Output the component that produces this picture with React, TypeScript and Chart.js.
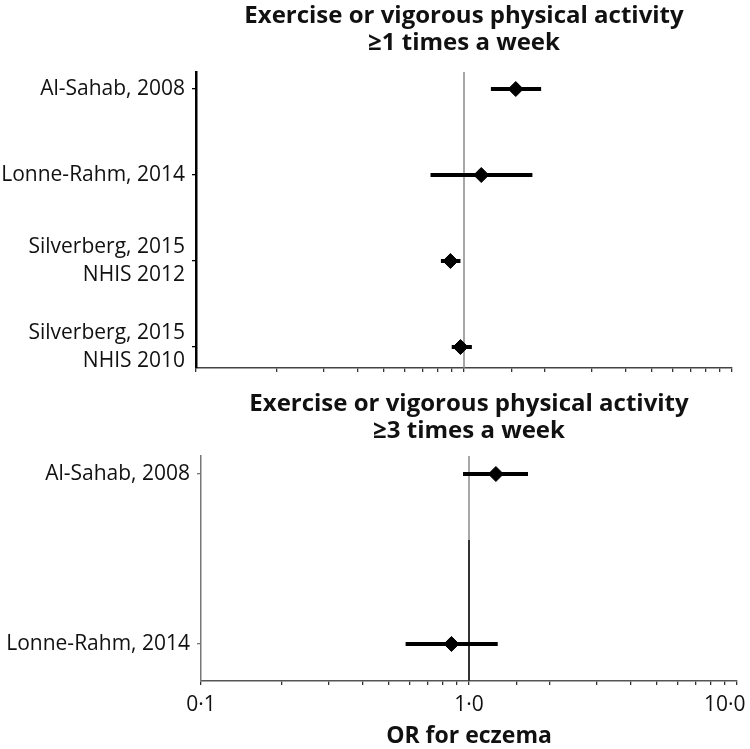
import React, { useEffect, useRef } from "react";
import { Chart, registerables } from "chart.js";

Chart.register(...registerables);

// ---- Data ----
const topTitle = ["Exercise or vigorous physical activity", "≥1 times a week"];
const topStudies: string[][] = [
  ["Al-Sahab, 2008"],
  ["Lonne-Rahm, 2014"],
  ["Silverberg, 2015", "NHIS 2012"],
  ["Silverberg, 2015", "NHIS 2010"],
];
const topOR = [1.56, 1.16, 0.89, 0.97];
const topLower = [1.26, 0.75, 0.82, 0.9];
const topUpper = [1.94, 1.8, 0.97, 1.07];

const bottomTitle = ["Exercise or vigorous physical activity", "≥3 times a week"];
const bottomStudies: string[][] = [["Al-Sahab, 2008"], ["Lonne-Rahm, 2014"]];
const bottomOR = [1.26, 0.86];
const bottomLower = [0.95, 0.58];
const bottomUpper = [1.66, 1.28];

const xMin = 0.1;
const xMax = 10;
const refValue = 1;
const xTickValues = [0.1, 1, 10];
const xTickLabels = ["0·1", "1·0", "10·0\u2002\u2002\u2009"];
const xTitle = "OR for eczema";

// y ranges (in row units)
const topYRange = [-0.198, 3.244];
const bottomYRange = [-0.106, 1.218];
const bottomRefSplit = 0.388;

const FONT = "'Open Sans', Lato, sans-serif";

type PanelCfg = {
  width: number;
  height: number;
  title: string[];
  studies: string[][];
  or: number[];
  lo: number[];
  hi: number[];
  yRange: number[];
  chartLeft: number;
  chartTop: number;
  padRight: number;
  bottomHeight: number;
  titlePadTop: number;
  showXLabels: boolean;
  yBorderColor: string;
  yBorderWidth: number;
  xBorderColor: string;
  refSegments: { from: number; to: number; color: string; width: number }[];
};

function makeConfig(p: PanelCfg): any {
  const datasets: any[] = [];
  datasets.push({
    data: p.or.map((v, i) => ({ x: v, y: i })),
    showLine: false,
    pointStyle: "rectRot",
    pointRadius: 7.5,
    pointHoverRadius: 7.5,
    backgroundColor: "#000",
    borderColor: "#000",
    borderWidth: 1,
  });
  p.or.forEach((_, i) => {
    datasets.push({
      data: [
        { x: p.lo[i], y: i },
        { x: p.hi[i], y: i },
      ],
      showLine: true,
      borderColor: "#000",
      borderWidth: 4,
      pointRadius: 0,
      borderCapStyle: "butt",
    });
  });
  p.refSegments.forEach((s) => {
    datasets.push({
      data: [
        { x: refValue, y: s.from },
        { x: refValue, y: s.to },
      ],
      showLine: true,
      borderColor: s.color,
      borderWidth: s.width,
      pointRadius: 0,
    });
  });

  return {
    type: "scatter",
    data: { datasets },
    options: {
      animation: false,
      responsive: false,
      events: [],
      layout: { padding: { left: 0, right: p.padRight, top: 0, bottom: 0 } },
      plugins: { legend: { display: false }, tooltip: { enabled: false } },
      scales: {
        x: {
          type: "logarithmic",
          position: "bottom",
          min: xMin,
          max: xMax,
          afterBuildTicks: (scale: any) => {
            scale.ticks = scale.ticks.filter((t: any) => t.value >= xMin - 1e-9 && t.value <= xMax + 1e-9);
          },
          ticks: {
            autoSkip: false,
            maxRotation: 0,
            minRotation: 0,
            padding: 7,
            color: "#111",
            font: { family: FONT, size: 21 },
            callback: (v: number) => {
              if (!p.showXLabels) return "";
              const idx = xTickValues.findIndex((t) => Math.abs(t - v) < 1e-9);
              return idx >= 0 ? xTickLabels[idx] : "";
            },
          },
          grid: {
            display: true,
            drawOnChartArea: false,
            drawTicks: true,
            tickLength: 4,
            color: "#333",
            lineWidth: 1.3,
          },
          border: { display: true, color: p.xBorderColor, width: 1.5 },
          title: {
            display: p.showXLabels,
            text: xTitle,
            color: "#111",
            font: { family: FONT, size: 23, weight: "bold", lineHeight: 1.05 },
            padding: { top: 0, bottom: 0 },
          },
          afterFit: (s: any) => {
            s.height = p.bottomHeight;
            s.paddingLeft = 0;
            s.paddingRight = 0;
          },
        },
        xt: {
          type: "logarithmic",
          position: "top",
          min: xMin,
          max: xMax,
          ticks: { display: false },
          grid: { display: false },
          border: { display: false },
          title: {
            display: true,
            text: p.title,
            color: "#111",
            font: { family: FONT, size: 24, weight: "bold", lineHeight: 1.12 },
            padding: { top: p.titlePadTop, bottom: 0 },
          },
          afterFit: (s: any) => {
            s.height = p.chartTop;
            s.paddingLeft = 0;
            s.paddingRight = 0;
          },
        },
        y: {
          type: "linear",
          position: "left",
          reverse: true,
          min: p.yRange[0],
          max: p.yRange[1],
          afterBuildTicks: (scale: any) => {
            scale.ticks = p.studies.map((_, i) => ({ value: i }));
          },
          ticks: {
            autoSkip: false,
            padding: 7,
            color: "#111",
            font: { family: FONT, size: 21, lineHeight: 1.33 },
            callback: (v: number) => {
              const s = p.studies[Math.round(v)];
              return s ? (s.length > 1 ? s : s[0]) : "";
            },
          },
          grid: {
            display: true,
            drawOnChartArea: false,
            drawTicks: true,
            tickLength: 4,
            color: p.yBorderColor,
            lineWidth: 1.3,
          },
          border: { display: true, color: p.yBorderColor, width: p.yBorderWidth },
          afterFit: (s: any) => {
            s.width = p.chartLeft;
            s.paddingTop = 0;
            s.paddingBottom = 0;
          },
        },
      },
    },
  };
}

function Panel({ cfg, top }: { cfg: PanelCfg; top: number }) {
  const ref = useRef<HTMLCanvasElement | null>(null);
  useEffect(() => {
    if (!ref.current) return;
    const chart = new Chart(ref.current, makeConfig(cfg));
    return () => chart.destroy();
  }, []);
  return (
    <canvas
      ref={ref}
      width={cfg.width}
      height={cfg.height}
      style={{ position: "absolute", left: 0, top, width: cfg.width, height: cfg.height, display: "block" }}
    />
  );
}

const topCfg: PanelCfg = {
  width: 750,
  height: 385,
  title: topTitle,
  studies: topStudies,
  or: topOR,
  lo: topLower,
  hi: topUpper,
  yRange: topYRange,
  chartLeft: 196,
  chartTop: 72,
  padRight: 18,
  bottomHeight: 17,
  titlePadTop: 3,
  showXLabels: false,
  yBorderColor: "#000",
  yBorderWidth: 2.5,
  xBorderColor: "#444",
  refSegments: [{ from: topYRange[0], to: topYRange[1], color: "#8a8a8a", width: 1.5 }],
};

const bottomCfg: PanelCfg = {
  width: 750,
  height: 364,
  title: bottomTitle,
  studies: bottomStudies,
  or: bottomOR,
  lo: bottomLower,
  hi: bottomUpper,
  yRange: bottomYRange,
  chartLeft: 201,
  chartTop: 71,
  padRight: 13,
  bottomHeight: 68,
  titlePadTop: 6,
  showXLabels: true,
  yBorderColor: "#777",
  yBorderWidth: 1.5,
  xBorderColor: "#555",
  refSegments: [
    { from: bottomYRange[0], to: bottomRefSplit, color: "#8a8a8a", width: 1.5 },
    { from: bottomRefSplit, to: bottomYRange[1], color: "#333", width: 2 },
  ],
};

export default function App() {
  return (
    <div style={{ position: "fixed", left: 0, top: 0, width: 750, height: 749, background: "#fff", overflow: "hidden" }}>
      <Panel cfg={topCfg} top={0} />
      <Panel cfg={bottomCfg} top={385} />
    </div>
  );
}
